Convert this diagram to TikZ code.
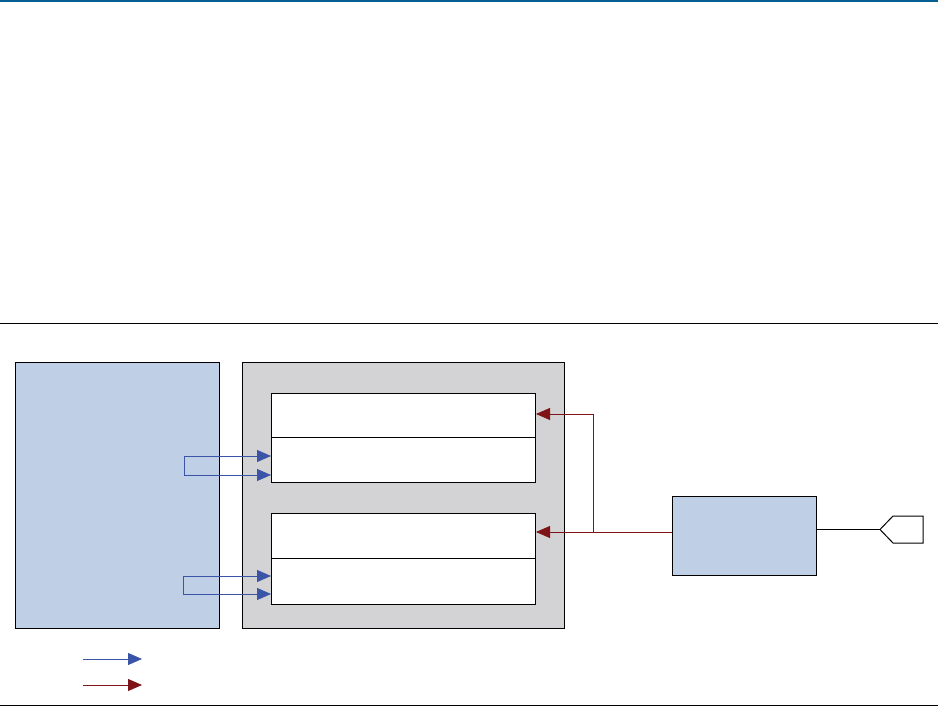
\documentclass[tikz,border=0pt]{standalone}
\usetikzlibrary{arrows.meta}
\definecolor{topblue}{HTML}{046093}
\definecolor{lightblue}{HTML}{BFD0E6}
\definecolor{boxgrey}{HTML}{D3D3D5}
\definecolor{arrblue}{HTML}{3A55A8}
\definecolor{arrred}{HTML}{7F1418}
\tikzset{
  box/.style={draw=black, line width=1pt, inner sep=0pt, anchor=north west},
  bluearr/.style={draw=arrblue, line width=0.85pt, -{Triangle[length=14pt,width=12pt]}},
  redarr/.style={draw=arrred, line width=0.85pt, -{Triangle[length=14pt,width=12pt]}},
}
\begin{document}
\begin{tikzpicture}[x=1pt,y=-1pt]
\useasboundingbox (0,0) rectangle (938,706);
\fill[white] (0,0) rectangle (938,706);
% rules
\draw[topblue, line width=2.5pt] (0,1.25) -- (938,1.25);
\draw[black, line width=1pt] (0,323.5) -- (938,323.5);
\draw[black, line width=1.2pt] (0,705.2) -- (938,705.2);
% main boxes
\node[box, fill=lightblue, minimum width=204pt, minimum height=266pt] (left) at (15,362) {};
\node[box, fill=boxgrey, minimum width=322pt, minimum height=266pt] (grey) at (242,362) {};
\node[box, fill=white, minimum width=264pt, minimum height=44pt] (a1) at (271,393) {};
\node[box, fill=white, minimum width=264pt, minimum height=45pt] (a2) at (271,437) {};
\node[box, fill=white, minimum width=264pt, minimum height=45pt] (b1) at (271,513) {};
\node[box, fill=white, minimum width=264pt, minimum height=46pt] (b2) at (271,558) {};
\node[box, fill=lightblue, minimum width=144pt, minimum height=79pt] (right) at (672,496) {};
% connector shape
\coordinate (pin) at (880,529.5);
\draw[black, line width=1pt] (right.east |- pin) -- (pin);
\draw[black, line width=1pt, fill=white] (880,529.5) -- (893,516) -- (923,516) -- (923,543) -- (893,543) -- cycle;
% blue arrows
\coordinate (ba) at (184,456);
\coordinate (bb) at (184,475);
\coordinate (bc) at (183,576);
\coordinate (bd) at (183,594);
\draw[bluearr] (ba) -- (ba -| a2.west);
\draw[bluearr] (ba) -- (bb) -- (bb -| a2.west);
\draw[bluearr] (bc) -- (bc -| b2.west);
\draw[bluearr] (bc) -- (bd) -- (bd -| b2.west);
% red arrows
\coordinate (rj) at (593,532);
\coordinate (rt) at (593,414);
\draw[redarr] (right.west |- rj) -- (rj -| b1.east);
\draw[redarr] (rj) -- (rt) -- (rt -| a1.east);
% legend
\coordinate (l1) at (83,659);
\coordinate (l2) at (142,659);
\coordinate (l3) at (83,685);
\coordinate (l4) at (142,685);
\draw[bluearr] (l1) -- (l2);
\draw[redarr] (l3) -- (l4);
\end{tikzpicture}
\end{document}
